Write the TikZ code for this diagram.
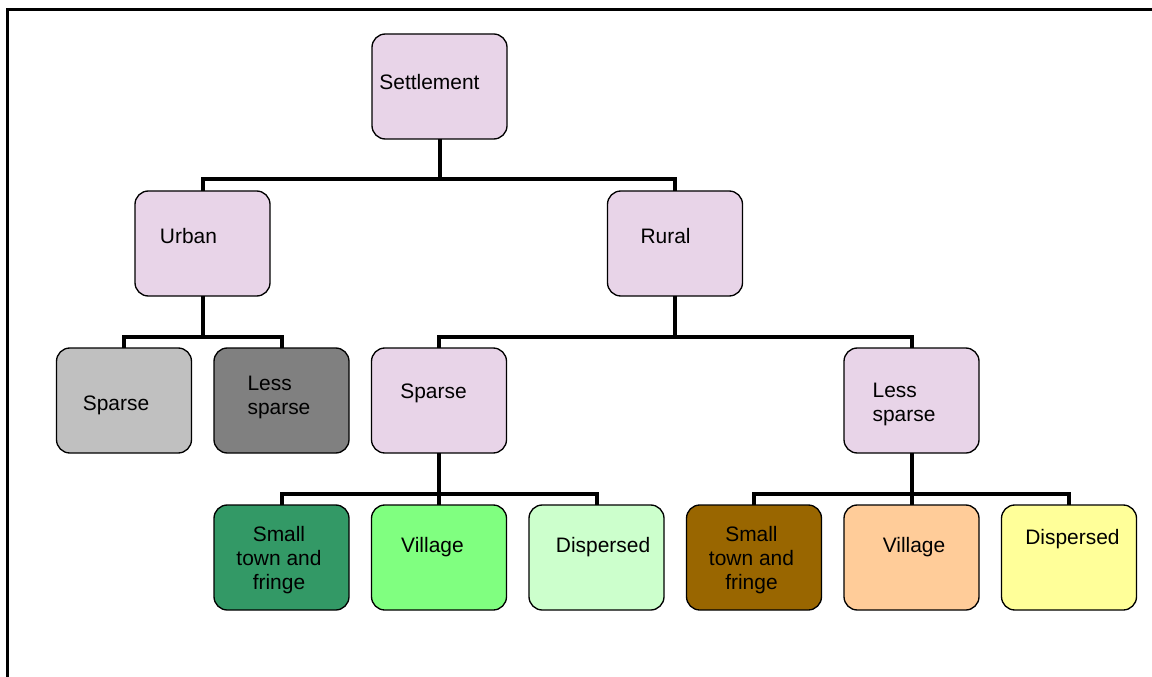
\documentclass[tikz,border=0pt]{standalone}
\usepackage{fontspec}
\setmainfont{Liberation Sans}
\usepackage{xcolor}
\definecolor{lilac}{RGB}{232, 212, 232}
\definecolor{lightgrey}{RGB}{192, 192, 192}
\definecolor{midgrey}{RGB}{128, 128, 128}
\definecolor{darkgreen}{RGB}{51, 153, 102}
\definecolor{brightgreen}{RGB}{128, 255, 128}
\definecolor{palegreen}{RGB}{204, 255, 204}
\definecolor{earthbrown}{RGB}{153, 102, 0}
\definecolor{peach}{RGB}{255, 204, 153}
\definecolor{paleyellow}{RGB}{255, 255, 153}
\usepackage{tikz}
\usetikzlibrary{positioning}

\begin{document}
\begin{tikzpicture}[x=0.75pt, y=-0.75pt, node distance=39pt and 16.875pt,
    every node/.style={font=\fontsize{15.7}{18}\selectfont},
    box/.style={rectangle, rounded corners=10pt, draw, line width=1pt, minimum width=101.25pt, minimum height=78.75pt, inner sep=0pt, outer sep=0pt},
    link/.style={line width=3pt}]
    \useasboundingbox (0,0) rectangle (1152,677);
    % Frame
    \draw[line width=2.25pt] (7.5,700) -- (7.5,9.5) -- (1170,9.5);

    % Top level
    \node[box, fill=lilac, label={[xshift=-7.5pt, yshift=3.4pt]center:Settlement}] (settle) at (439.5,86.5) {};

    % Urban / Rural
    \node[box, fill=lilac, label={[xshift=-10.5pt, yshift=5.6pt]center:Urban}] (urban) at (202.5,243.5) {};
    \node[box, fill=lilac, label={[xshift=-7.1pt, yshift=5.6pt]center:Rural}] (rural) at (675,243.5) {};

    % Density level
    \node[box, fill=lightgrey, label={[xshift=-6pt, yshift=-3.4pt]center:Sparse}] (usparse) at (124,400.5) {};
    \node[box, fill=midgrey, right=of usparse, label={[align=left, xshift=-1.9pt, yshift=2.25pt]center:{Less\\sparse}}] (uless) {};
    \node[box, fill=lilac, right=of uless, label={[xshift=-4.1pt, yshift=5.25pt]center:Sparse}] (rsparse) {};
    \node[box, fill=lilac, label={[align=left, xshift=-5.6pt, yshift=-3pt]center:{Less\\sparse}}] (rless) at (911.5,400.5) {};

    % Settlement types
    \node[box, fill=darkgreen, below=of uless, label={[align=center, xshift=-1.9pt, yshift=-2.25pt]center:{Small\\town and\\fringe}}] (sparsetown) {};
    \node[box, fill=brightgreen, right=of sparsetown, label={[xshift=-4.9pt, yshift=7.9pt]center:Village}] (sparsevillage) {};
    \node[box, fill=palegreen, right=of sparsevillage, label={[xshift=4.9pt, yshift=7.9pt]center:Dispersed}] (sparsedisp) {};
    \node[box, fill=earthbrown, right=of sparsedisp, label={[align=center, xshift=-1.9pt, yshift=-2.25pt]center:{Small\\town and\\fringe}}] (lesstown) {};
    \node[box, fill=peach, right=of lesstown, label={[xshift=1.9pt, yshift=7.9pt]center:Village}] (lessvillage) {};
    \node[box, fill=paleyellow, right=of lessvillage, label={[xshift=2.6pt, yshift=13.5pt]center:Dispersed}] (lessdisp) {};

    % Tree links
    \draw[link] (settle.south) -- ++(0,40.5) -| (urban.north);
    \draw[link] (settle.south) -- ++(0,40.5) -| (rural.north);
    \draw[link] (urban.south) -- ++(0,40.5) -| (usparse.north);
    \draw[link] (urban.south) -- ++(0,40.5) -| (uless.north);
    \draw[link] (rural.south) -- ++(0,40.5) -| (rsparse.north);
    \draw[link] (rural.south) -- ++(0,40.5) -| (rless.north);
    \draw[link] (rsparse.south) -- ++(0,40.5) -| (sparsetown.north);
    \draw[link] (rsparse.south) -- (sparsevillage.north);
    \draw[link] (rsparse.south) -- ++(0,40.5) -| (sparsedisp.north);
    \draw[link] (rless.south) -- ++(0,40.5) -| (lesstown.north);
    \draw[link] (rless.south) -- (lessvillage.north);
    \draw[link] (rless.south) -- ++(0,40.5) -| (lessdisp.north);
\end{tikzpicture}
\end{document}
